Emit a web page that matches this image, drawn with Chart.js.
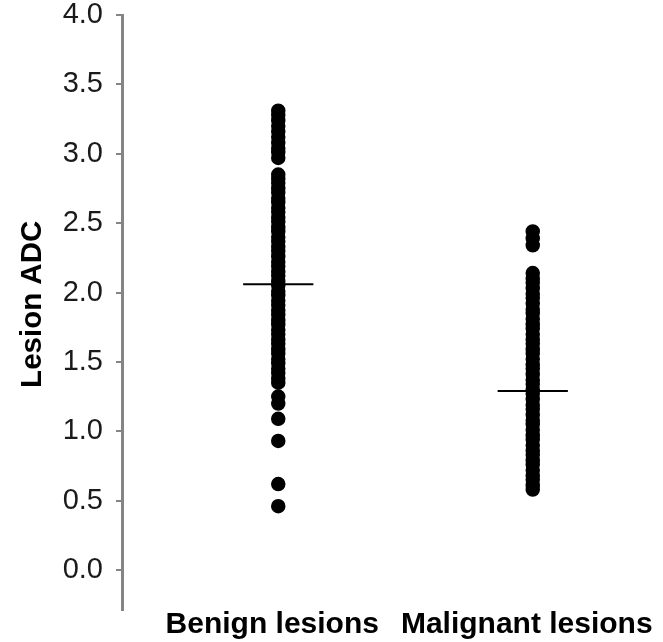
<!DOCTYPE html>
<html lang="en">
<head>
<meta charset="UTF-8">
<title>Lesion ADC</title>
<script src="https://cdn.jsdelivr.net/npm/chart.js"></script>
<style>
  body { margin: 0; background: #fff; }
</style>
</head>
<body>
<canvas id="adc-chart" width="663" height="642"></canvas>
<script>
// group names (x positions are the index in this list)
const groups = ["Benign lesions", "Malignant lesions"];

// ADC values
const benignValues = [3.31, 3.28, 3.24, 3.20, 3.16, 3.12, 3.08, 3.04, 3.01, 2.97,
  2.85, 2.82, 2.79, 2.75, 2.72, 2.68, 2.65, 2.61, 2.58, 2.54, 2.51, 2.47, 2.44,
  2.40, 2.37, 2.33, 2.30, 2.26, 2.22, 2.19, 2.15, 2.12, 2.08, 2.05, 2.01, 1.98,
  1.94, 1.91, 1.87, 1.84, 1.80, 1.77, 1.73, 1.70, 1.66, 1.63, 1.59, 1.56, 1.52,
  1.49, 1.45, 1.42, 1.38, 1.35, 1.25, 1.20, 1.09, 0.93, 0.62, 0.46];
const malignantValues = [2.44, 2.39, 2.34, 2.14, 2.10, 2.07, 2.03, 1.99, 1.96,
  1.92, 1.88, 1.85, 1.81, 1.77, 1.74, 1.70, 1.66, 1.63, 1.59, 1.56, 1.52, 1.48,
  1.45, 1.41, 1.37, 1.34, 1.30, 1.27, 1.23, 1.19, 1.16, 1.12, 1.08, 1.05, 1.01,
  0.97, 0.94, 0.90, 0.86, 0.83, 0.79, 0.76, 0.72, 0.68, 0.65, 0.61, 0.58];

// mean of each group (horizontal bars)
const groupMeans = [2.06, 1.29];

const yTicks = [0, 0.5, 1, 1.5, 2, 2.5, 3, 3.5, 4];

const meanHalfWidth = 0.138;
const axisGray = '#858585';

const pointData = [benignValues, malignantValues];

const datasets = [];
pointData.forEach((vals, i) => {
    datasets.push({
        type: 'scatter',
        data: vals.map(v => ({ x: i, y: v })),
        backgroundColor: '#000',
        borderColor: '#000',
        borderWidth: 1.5,
        pointRadius: 6.5,
        pointHoverRadius: 6.5
    });
});
groupMeans.forEach((m, i) => {
    datasets.push({
        type: 'line',
        data: [{ x: i - meanHalfWidth, y: m }, { x: i + meanHalfWidth, y: m }],
        borderColor: '#000',
        borderWidth: 2,
        pointRadius: 0,
        fill: false
    });
});

const ctx = document.getElementById('adc-chart').getContext('2d');
new Chart(ctx, {
    type: 'scatter',
    data: { datasets: datasets },
    options: {
        responsive: false,
        animation: false,
        layout: { autoPadding: false, padding: { top: 15, right: 3, left: 0, bottom: 0 } },
        plugins: {
            legend: { display: false },
            tooltip: { enabled: false }
        },
        scales: {
            x: {
                type: 'linear',
                min: -0.614,
                max: 1.5,
                border: { display: false },
                grid: { display: false, drawTicks: false },
                afterBuildTicks: scale => {
                    scale.ticks = groups.map((g, i) => ({ value: i }));
                },
                afterFit: scale => {
                    scale.height = 32;
                    scale.paddingLeft = 0;
                    scale.paddingRight = 0;
                },
                ticks: {
                    padding: 0,
                    labelOffset: -6,
                    color: '#000',
                    font: { family: 'Liberation Sans, Arial', size: 30, weight: 'bold', lineHeight: 1 },
                    callback: (v) => groups[v]
                }
            },
            y: {
                min: -0.288,
                max: 4.0,
                border: { display: true, color: axisGray, width: 3 },
                grid: {
                    drawOnChartArea: false,
                    drawTicks: true,
                    tickLength: 6,
                    color: axisGray,
                    lineWidth: 2
                },
                afterBuildTicks: scale => {
                    scale.ticks = yTicks.map(v => ({ value: v }));
                },
                afterFit: scale => {
                    scale.width = 122;
                    scale.paddingTop = 0;
                    scale.paddingBottom = 0;
                },
                ticks: {
                    padding: 13,
                    color: '#1a1a1a',
                    font: { family: 'Liberation Sans, Arial', size: 29, lineHeight: 1 },
                    callback: v => v.toFixed(1)
                },
                title: {
                    display: true,
                    text: '\u00a0\u00a0Lesion ADC',
                    color: '#000',
                    padding: { top: 17, bottom: 0 },
                    font: { family: 'Liberation Sans, Arial', size: 29.5, weight: 'bold', lineHeight: 1.1 }
                }
            }
        }
    }
});
</script>
</body>
</html>
